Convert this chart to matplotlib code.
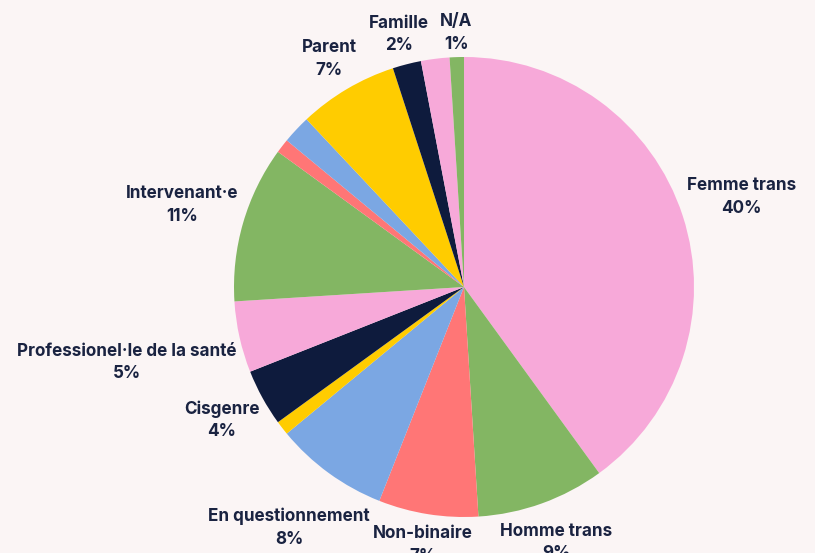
import numpy as np
import matplotlib.pyplot as plt

# parts du camembert, dans le sens horaire depuis le haut
categories = ["Femme trans", "Homme trans", "Non-binaire", "En questionnement", None,
              "Cisgenre", "Professionel·le de la santé", "Intervenant·e", None, None,
              "Parent", "Famille", None, "N/A"]
values = [40, 9, 7, 8, 1, 4, 5, 11, 1, 2, 7, 2, 2, 1]
colors = ["#F7A9D9", "#83B663", "#FF7676", "#7BA7E3", "#FFCC00", "#0E1B3D",
          "#F7A9D9", "#83B663", "#FF7676", "#7BA7E3", "#FFCC00", "#0E1B3D",
          "#F7A9D9", "#83B663"]

BG = "#FBF5F5"
TEXT = "#1A2341"
W, H = 815, 553
cx, cy, R = 464, H - 287, 230

fig = plt.figure(figsize=(W / 100, H / 100), dpi=100, facecolor=BG)
ax = fig.add_axes([0, 0, 1, 1])
ax.set_facecolor(BG)

wedges, _ = ax.pie(values, colors=colors, startangle=90, counterclock=False,
                   center=(cx, cy), radius=R, wedgeprops=dict(linewidth=0))
ax.set_xlim(0, W)
ax.set_ylim(0, H)
ax.set_aspect("equal")
ax.axis("off")

total = sum(values)
texts = []
for w, name, v in zip(wedges, categories, values):
    if name is None:
        continue
    t = ax.text(0, 0, f"{name}\n{round(100 * v / total)}%", ha="center", va="center",
                multialignment="center", fontsize=12.3, fontweight="bold",
                family=["Inter", "DejaVu Sans"], color=TEXT, linespacing=1.42)
    texts.append((t, w))

# placement façon datalabels : ancré au bord, aligné vers l'extérieur
fig.canvas.draw()
renderer = fig.canvas.get_renderer()
for t, w in texts:
    mid = np.deg2rad((w.theta1 + w.theta2) / 2)
    dx, dy = np.cos(mid), np.sin(mid)
    bb = t.get_window_extent(renderer)
    d = 4 + abs(dx) * bb.width / 2 + abs(dy) * bb.height / 2
    t.set_position((cx + dx * (R + d), cy + dy * (R + d)))

fig.savefig("out.png", dpi=100, facecolor=BG)
